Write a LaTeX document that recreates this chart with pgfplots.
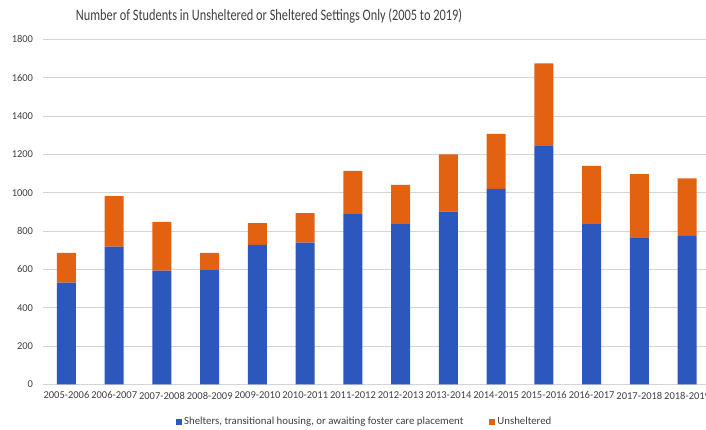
\documentclass[border=0pt]{standalone}
\usepackage{fontspec}
\setmainfont{Carlito}
\newfontfamily\titlefont[FakeStretch=0.77]{Carlito}
\usepackage{pgfplots}
\pgfplotsset{compat=1.18}
\definecolor{sblue}{RGB}{44,88,190}
\definecolor{sorange}{RGB}{226,98,18}
\definecolor{txt}{RGB}{64,64,64}
\definecolor{gridc}{RGB}{212,212,212}
\begin{document}
\begin{tikzpicture}
\begin{axis}[
  at={(42.6pt,44.7pt)}, anchor=south west,
  scale only axis, width=668.4pt, height=345pt,
  ybar stacked, bar width=19pt,
  xmin=-0.5, xmax=13.5, ymin=0, ymax=1800,
  xtick=data,
  xticklabels={2005-2006,2006-2007,2007-2008,2008-2009,2009-2010,2010-2011,2011-2012,2012-2013,2013-2014,2014-2015,2015-2016,2016-2017,2017-2018,2018-2019},
  ytick={0,200,...,1800},
  ymajorgrids, grid style={gridc, line width=0.9pt},
  axis line style={draw=none},
  major tick length=0pt,
  tick label style={font=\fontsize{10.5}{12}\selectfont, text=txt},
  /pgf/number format/assume math mode=true,
  /pgf/number format/1000 sep={},
  yticklabel style={xshift=-6pt},
  xticklabel style={yshift=-4pt},
  title={\titlefont\fontsize{16}{19}\selectfont Number of Students in Unsheltered or Sheltered Settings Only (2005 to 2019)},
  title style={at={(0.3387,1.050)}, anchor=center, text=txt},
  legend columns=2,
  legend style={draw=none, at={(0.482,-0.108)}, anchor=center,
    font=\fontsize{10.8}{12}\selectfont, text=txt,
    /tikz/every even column/.append style={column sep=24pt}},
  legend image code/.code={\fill[#1] (0pt,-3pt) rectangle (6pt,3pt);},
]
\addplot[fill=sblue, draw=none] coordinates {
(0,530) (1,718) (2,593) (3,596) (4,727) (5,739) (6,888)
(7,836) (8,901) (9,1019) (10,1247) (11,840) (12,767) (13,775)};
\addplot[fill=sorange, draw=none] coordinates {
(0,156) (1,264) (2,254) (3,90) (4,114) (5,154) (6,225)
(7,204) (8,299) (9,287) (10,428) (11,299) (12,330) (13,300)};
\legend{{Shelters, transitional housing, or awaiting foster care placement}, {Unsheltered}}
\end{axis}
\pgfresetboundingbox
\path[use as bounding box] (0,0) rectangle (706pt,429pt);
\end{tikzpicture}
\end{document}
